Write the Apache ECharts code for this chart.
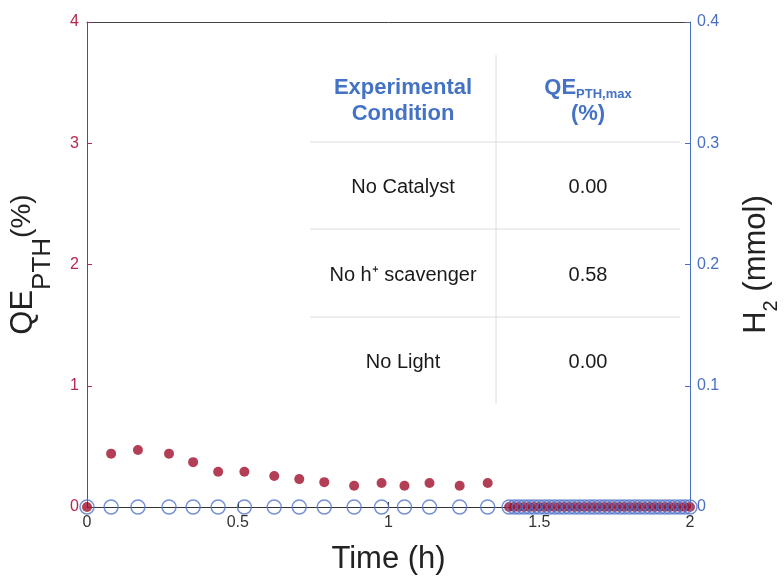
<!DOCTYPE html>
<html>
<head>
<meta charset="utf-8">
<script src="https://cdn.jsdelivr.net/npm/echarts@6/dist/echarts.min.js"></script>
<style>
  html, body { margin: 0; padding: 0; background: #ffffff; }
  #chart { width: 784px; height: 579px; }
</style>
</head>
<body>
<div id="chart"></div>
<script>
// Sampling times (h), shared by both measurements
const sampleTime = [
  0, 0.080, 0.169, 0.272, 0.352, 0.435, 0.522, 0.621, 0.704, 0.787,
  0.886, 0.977, 1.053, 1.136, 1.236, 1.329,
  1.400, 1.417, 1.433, 1.450, 1.467, 1.483, 1.500, 1.517, 1.533, 1.550,
  1.567, 1.583, 1.600, 1.617, 1.633, 1.650, 1.667, 1.683, 1.700, 1.717,
  1.733, 1.750, 1.767, 1.783, 1.800, 1.817, 1.833, 1.850, 1.867, 1.883,
  1.900, 1.917, 1.933, 1.950, 1.967, 1.983, 2.000
];

// Photothermal quantum efficiency QE_PTH (%)
const qeValue = [
  0, 0.44, 0.47, 0.44, 0.37, 0.29, 0.29, 0.255, 0.23, 0.205,
  0.175, 0.198, 0.175, 0.198, 0.175, 0.198,
  0, 0, 0, 0, 0, 0, 0, 0, 0, 0,
  0, 0, 0, 0, 0, 0, 0, 0, 0, 0,
  0, 0, 0, 0, 0, 0, 0, 0, 0, 0,
  0, 0, 0, 0, 0, 0, 0
];

// Hydrogen evolved (mmol)
const h2Value = [
  0, 0, 0, 0, 0, 0, 0, 0, 0, 0,
  0, 0, 0, 0, 0, 0,
  0, 0, 0, 0, 0, 0, 0, 0, 0, 0,
  0, 0, 0, 0, 0, 0, 0, 0, 0, 0,
  0, 0, 0, 0, 0, 0, 0, 0, 0, 0,
  0, 0, 0, 0, 0, 0, 0
];

// Inset table
const tableHeader = ['Experimental\nCondition', 'QE{s|PTH,max}\n(%)'];
const conditions = ['No Catalyst', 'No h\u207A scavenger', 'No Light'];
const qeMax = ['0.00', '0.58', '0.00'];

const FONT = '"Liberation Sans", Arial, Helvetica, sans-serif';
const RED_AXIS = '#b3294f';
const RED_DOT = '#a00f2c';
const BLUE_AXIS = '#4a6fc2';
const BLUE_RING = '#5276c8';
const HEAD_BLUE = '#4472c4';
const RULE = '#dcdcdc';

const qeData = sampleTime.map((t, i) => [t, qeValue[i]]);
const h2Data = sampleTime.map((t, i) => [t, h2Value[i]]);

// Table layout
const colX = [403, 588];
const headY = 101;
const rowY = [187, 275, 362];
const ruleY = [142, 229, 317];

const graphics = [];
ruleY.forEach(y => graphics.push({
  type: 'line', silent: true, z: 1,
  shape: { x1: 310, y1: y, x2: 680, y2: y },
  style: { stroke: RULE, lineWidth: 1 }
}));
graphics.push({
  type: 'line', silent: true, z: 1,
  shape: { x1: 496, y1: 55, x2: 496, y2: 404 },
  style: { stroke: RULE, lineWidth: 1 }
});
tableHeader.forEach((txt, c) => graphics.push({
  type: 'text', silent: true, z: 2,
  x: colX[c], y: headY,
  style: {
    text: txt, align: 'center', verticalAlign: 'middle',
    fontFamily: FONT, fontSize: 22, fontWeight: 'bold', fill: HEAD_BLUE,
    lineHeight: 26,
    rich: {
      s: { fontFamily: FONT, fontSize: 13, fontWeight: 'bold', fill: HEAD_BLUE,
           verticalAlign: 'bottom', lineHeight: 12 }
    }
  }
}));
conditions.forEach((txt, r) => {
  graphics.push({
    type: 'text', silent: true, z: 2, x: colX[0], y: rowY[r],
    style: { text: txt, align: 'center', verticalAlign: 'middle',
             fontFamily: FONT, fontSize: 20, fill: '#1a1a1a' }
  });
  graphics.push({
    type: 'text', silent: true, z: 2, x: colX[1], y: rowY[r],
    style: { text: qeMax[r], align: 'center', verticalAlign: 'middle',
             fontFamily: FONT, fontSize: 20, fill: '#1a1a1a' }
  });
});

const chart = echarts.init(document.getElementById('chart'), null, { renderer: 'canvas' });
chart.setOption({
  animation: false,
  backgroundColor: '#ffffff',
  grid: {
    left: 87, right: 94, top: 22, bottom: 72,
    outerBoundsMode: 'none', containLabel: false
  },
  xAxis: [
    {
      type: 'value', min: 0, max: 2, interval: 0.5, position: 'bottom',
      name: 'Time (h)', nameLocation: 'middle', nameGap: 37,
      nameTextStyle: { fontFamily: FONT, fontSize: 31, color: '#222' },
      axisLine: { onZero: false, lineStyle: { color: '#333', width: 1 } },
      axisTick: { inside: true, length: 5, lineStyle: { color: '#333' } },
      axisLabel: { fontFamily: FONT, fontSize: 16, color: '#333', margin: 8 },
      splitLine: { show: false }
    },
    {
      // top frame edge
      type: 'value', min: 0, max: 2, interval: 0.5, position: 'top',
      axisLine: { onZero: false, lineStyle: { color: '#444', width: 1 } },
      axisTick: { show: false },
      axisLabel: { show: false },
      splitLine: { show: false }
    }
  ],
  yAxis: [
    {
      type: 'value', min: 0, max: 4, interval: 1, position: 'left',
      name: '{m|QE}{s|PTH}{p|(%)}', nameLocation: 'middle', nameGap: 29,
      nameTextStyle: {
        fontFamily: FONT, color: '#222',
        rich: {
          m: { fontFamily: FONT, fontSize: 31, color: '#222', lineHeight: 50, verticalAlign: 'top' },
          s: { fontFamily: FONT, fontSize: 26, color: '#222', lineHeight: 50, verticalAlign: 'top',
               padding: [22, 0, 0, 0] },
          p: { fontFamily: FONT, fontSize: 28, color: '#222', lineHeight: 50, verticalAlign: 'top' }
        }
      },
      axisLine: { show: true, onZero: false, lineStyle: { color: RED_AXIS, width: 1 } },
      axisTick: { show: true, inside: true, length: 5, lineStyle: { color: RED_AXIS } },
      axisLabel: { fontFamily: FONT, fontSize: 16, color: RED_AXIS, margin: 8 },
      splitLine: { show: false }
    },
    {
      type: 'value', min: 0, max: 0.4, interval: 0.1, position: 'right',
      name: '{m|H}{s|2}{m| (mmol)}', nameLocation: 'middle', nameGap: 51,
      nameTextStyle: {
        fontFamily: FONT, color: '#222',
        rich: {
          m: { fontFamily: FONT, fontSize: 31, color: '#222', lineHeight: 45, verticalAlign: 'top' },
          s: { fontFamily: FONT, fontSize: 20, color: '#222', lineHeight: 45, verticalAlign: 'top',
               padding: [20, 0, 0, 0] }
        }
      },
      axisLine: { show: true, onZero: false, lineStyle: { color: BLUE_AXIS, width: 1 } },
      axisTick: { show: true, inside: true, length: 5, lineStyle: { color: BLUE_AXIS } },
      axisLabel: { fontFamily: FONT, fontSize: 16, color: BLUE_AXIS, margin: 7 },
      splitLine: { show: false }
    }
  ],
  graphic: graphics,
  series: [
    {
      name: 'QE', type: 'scatter', xAxisIndex: 0, yAxisIndex: 0, clip: false, z: 3,
      symbol: 'circle', symbolSize: 10,
      itemStyle: { color: RED_DOT },
      emphasis: { disabled: true },
      data: qeData
    },
    {
      name: 'H2', type: 'scatter', xAxisIndex: 0, yAxisIndex: 1, clip: false, z: 4,
      symbol: 'circle', symbolSize: 14,
      itemStyle: { color: 'rgba(0,0,0,0)', borderColor: BLUE_RING, borderWidth: 1.5 },
      emphasis: { disabled: true },
      data: h2Data
    }
  ]
});
</script>
</body>
</html>
